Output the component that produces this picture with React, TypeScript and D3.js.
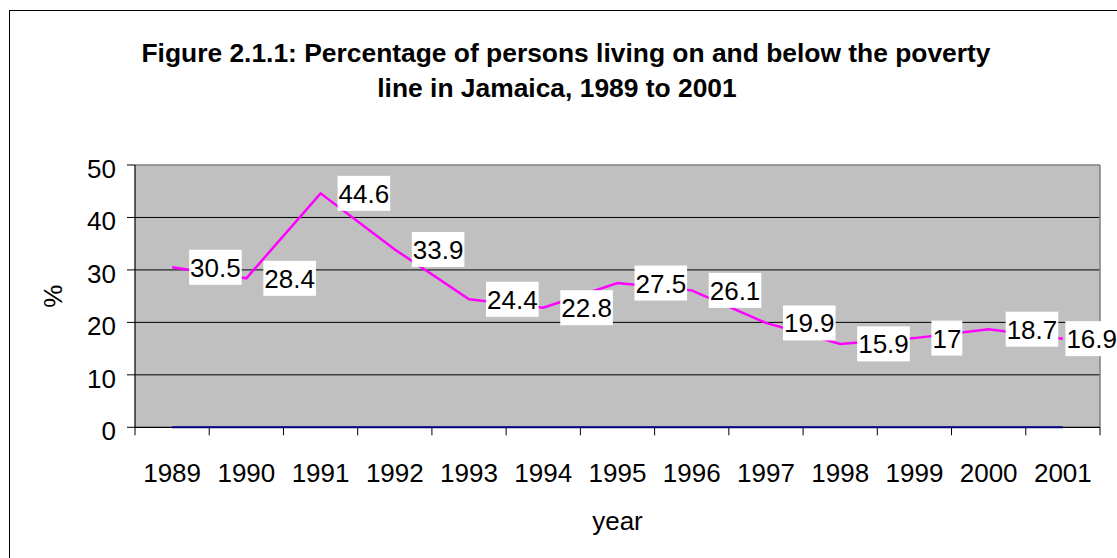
import React from "react";
import * as d3 from "d3";

const years = ["1989","1990","1991","1992","1993","1994","1995","1996","1997","1998","1999","2000","2001"];
const poverty = [30.5, 28.4, 44.6, 33.9, 24.4, 22.8, 27.5, 26.1, 19.9, 15.9, 17, 18.7, 16.9];
const zeroSeries = [0, 0, 0, 0, 0, 0, 0, 0, 0, 0, 0, 0, 0];
const yTicks = [0, 10, 20, 30, 40, 50];
const titleLines = [
  "Figure 2.1.1: Percentage of persons living on and below the poverty",
  "line in Jamaica, 1989 to 2001",
];
const yLabel = "%";
const xLabel = "year";

const W = 1117;
const H = 558;
const FONT = "'Liberation Sans', Arial, Helvetica, sans-serif";
const FS = 26;
const TFS = 26.4;

function textWidth(s: string, fs: number) {
  let w = 0;
  for (const c of s) w += c === "." ? 0.278 : 0.556;
  return w * fs;
}

export default function App() {
  const left = 135, right = 1100, top = 165, bottom = 427.3;
  const x = d3.scaleBand<string>().domain(years).range([left, right]);
  const y = d3.scaleLinear().domain([0, 50]).range([bottom, top]);
  const cx = (yr: string) => (x(yr) as number) + x.bandwidth() / 2;

  const line = d3
    .line<number>()
    .x((_, i) => cx(years[i]))
    .y((d) => y(d));

  const boundaries = d3.range(years.length + 1).map((i) => left + i * x.step());

  return (
    <svg
      width={W}
      height={H}
      style={{ position: "absolute", left: 0, top: 0, background: "#fff" }}
      fontFamily={FONT}
    >
      <rect x={9.5} y={10.5} width={1300} height={700} fill="#fff" stroke="#000" strokeWidth={1} />
      {/* Title */}
      <text x={566} y={61.5} textAnchor="middle" fontSize={TFS} fontWeight="bold" fill="#000">
        {titleLines[0]}
      </text>
      <text x={557} y={96.5} textAnchor="middle" fontSize={TFS} fontWeight="bold" fill="#000">
        {titleLines[1]}
      </text>

      {/* Plot area */}
      <rect x={left} y={top} width={right - left} height={bottom - top} fill="#c0c0c0" />
      {yTicks.filter((t) => t > 0 && t < 50).map((t) => (
        <line key={t} x1={left} x2={right} y1={y(t)} y2={y(t)} stroke="#000" strokeWidth={1} />
      ))}
      <line x1={left} x2={right} y1={top} y2={top} stroke="#808080" strokeWidth={1.5} />
      <line x1={right} x2={right} y1={top} y2={bottom} stroke="#808080" strokeWidth={1.5} />

      {/* Y axis */}
      <line x1={left} x2={left} y1={top} y2={bottom} stroke="#000" strokeWidth={1.2} />
      {yTicks.map((t) => (
        <g key={t}>
          <line x1={left - 8} x2={left} y1={y(t)} y2={y(t)} stroke="#000" strokeWidth={1} />
          <text x={116} y={y(t) + 13} textAnchor="end" fontSize={FS} fill="#000">
            {t}
          </text>
        </g>
      ))}

      {/* X axis */}
      <line x1={left} x2={right} y1={bottom} y2={bottom} stroke="#000" strokeWidth={1.2} />
      {boundaries.map((b, i) => (
        <line key={i} x1={b} x2={b} y1={bottom} y2={bottom + 8} stroke="#000" strokeWidth={1} />
      ))}
      {years.map((yr) => (
        <text key={yr} x={cx(yr)} y={481.5} textAnchor="middle" fontSize={FS} fill="#000">
          {yr}
        </text>
      ))}

      {/* Series */}
      <path d={line(zeroSeries) || ""} fill="none" stroke="#000080" strokeWidth={2} />
      <path d={line(poverty) || ""} fill="none" stroke="#ff00ff" strokeWidth={2.5} strokeLinejoin="miter" />

      {/* Data labels */}
      {poverty.map((v, i) => {
        const s = String(v);
        const tw = textWidth(s, FS);
        const bw = tw + 2;
        const bh = 35;
        let bx = cx(years[i]) + 17;
        if (bx + bw > W + 1) bx = W + 1 - bw;
        const by = y(v) - bh / 2;
        return (
          <g key={i}>
            <rect x={bx} y={by} width={bw} height={bh} fill="#fff" />
            <text x={bx + 1} y={y(v) + 9.5} fontSize={FS} fill="#000">
              {s}
            </text>
          </g>
        );
      })}

      {/* Axis titles */}
      <text
        transform={`translate(62,${(top + bottom) / 2}) rotate(-90)`}
        textAnchor="middle"
        fontSize={FS}
        fill="#000"
      >
        {yLabel}
      </text>
      <text x={(left + right) / 2} y={530} textAnchor="middle" fontSize={FS} fill="#000">
        {xLabel}
      </text>
    </svg>
  );
}
